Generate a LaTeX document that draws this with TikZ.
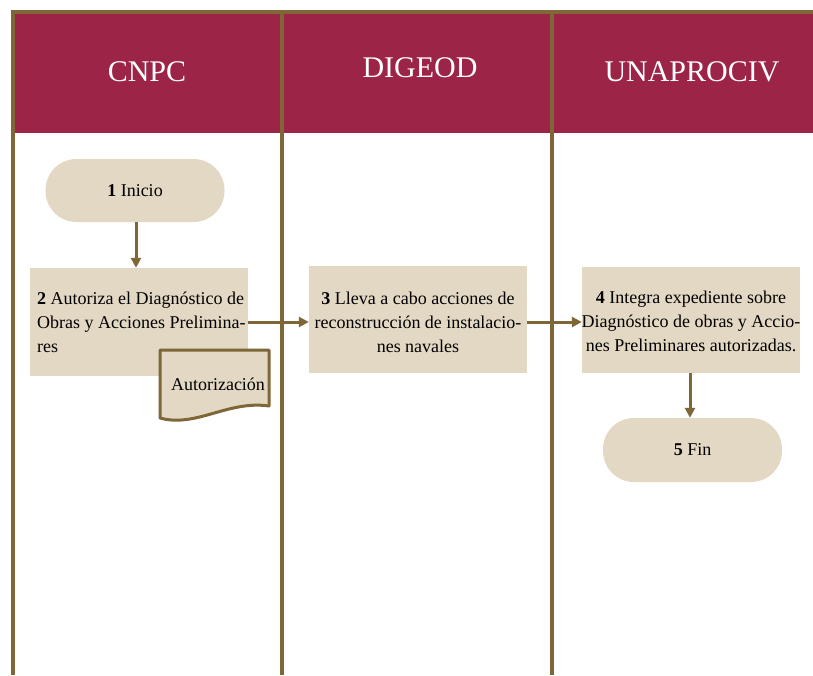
\documentclass[tikz,border=0pt]{standalone}
\usepackage{fontspec}
\setmainfont{Liberation Serif}
\usetikzlibrary{arrows.meta}
\definecolor{hdrred}{HTML}{9B2447}
\definecolor{lanebrown}{HTML}{7F6637}
\definecolor{boxfill}{HTML}{E3D8C3}
\tikzset{
  laneline/.style={draw=lanebrown, line width=4.5pt},
  hdrtext/.style={text=white, font=\fontsize{30}{36}\selectfont},
  bodyfont/.style={font=\fontsize{18}{24}\selectfont},
  proc/.style={fill=boxfill, minimum width=218pt, minimum height=107pt, inner sep=0pt},
  term/.style={fill=boxfill, rounded corners=31pt, minimum width=179pt, minimum height=63pt, inner sep=0pt, bodyfont},
  flow/.style={draw=lanebrown, line width=3pt, -{Triangle[length=10pt,width=10pt]}},
  docshape/.style={draw=lanebrown, line width=3pt, fill=boxfill, line join=round}
}
\begin{document}
\begin{tikzpicture}[x=1pt,y=-1pt]
\useasboundingbox (0,0) rectangle (813,675);
% header band
\fill[hdrred] (13,12) rectangle (813,133);
% lane lines
\draw[laneline] (13,675) -- (13,12) -- (813,12);
\draw[laneline] (282,12) -- (282,675);
\draw[laneline] (552,12) -- (552,675);
% header labels
\node[hdrtext] (h1) at (147,72) {CNPC};
\node[hdrtext] (h2) at (420,68) {DIGEOD};
\node[hdrtext] (h3) at (692,72) {UNAPROCIV};
% nodes
\node[term] (n1) at (135,190.5) {\textbf{1} Inicio};
\node[proc, minimum height=108pt] (n2) at (139,322) {};
\node[bodyfont, align=left, anchor=west, inner sep=0pt] (t2) at (37,322) {\textbf{2} Autoriza el Diagnóstico de\\Obras y Acciones Prelimina-\\res};
\node[proc] (n3) at (418,319.5) {};
\node[bodyfont, align=center] (t3) at (418,322) {\textbf{3} Lleva a cabo acciones de\\reconstrucción de instalacio-\\nes navales};
\node[proc, minimum height=106pt] (n4) at (691,320) {};
\node[bodyfont, align=center, inner sep=0pt] (t4) at (691,321.5) {\textbf{4} Integra expediente sobre\\Diagnóstico de obras y Accio-\\nes Preliminares autorizadas.};
\node[term, minimum height=64pt] (n5) at (692.5,450) {\textbf{5} Fin};
% document
\draw[docshape] (160,418) -- (160,350) -- (269,350) -- (269,406)
  .. controls (228,400) and (196,428) .. cycle;
\node[bodyfont] (doc) at (218,384) {Autorización};
% connectors
\draw[flow] (n1.south -| 136,0) -- (n2.north -| 136,0);
\draw[flow] (n2.east) -- (n3.west |- n2.east);
\draw[flow] (n3.east |- n2.east) -- (n4.west |- n2.east);
\draw[flow] (n4.south -| 690,0) -- (n5.north -| 690,0);
\end{tikzpicture}
\end{document}
